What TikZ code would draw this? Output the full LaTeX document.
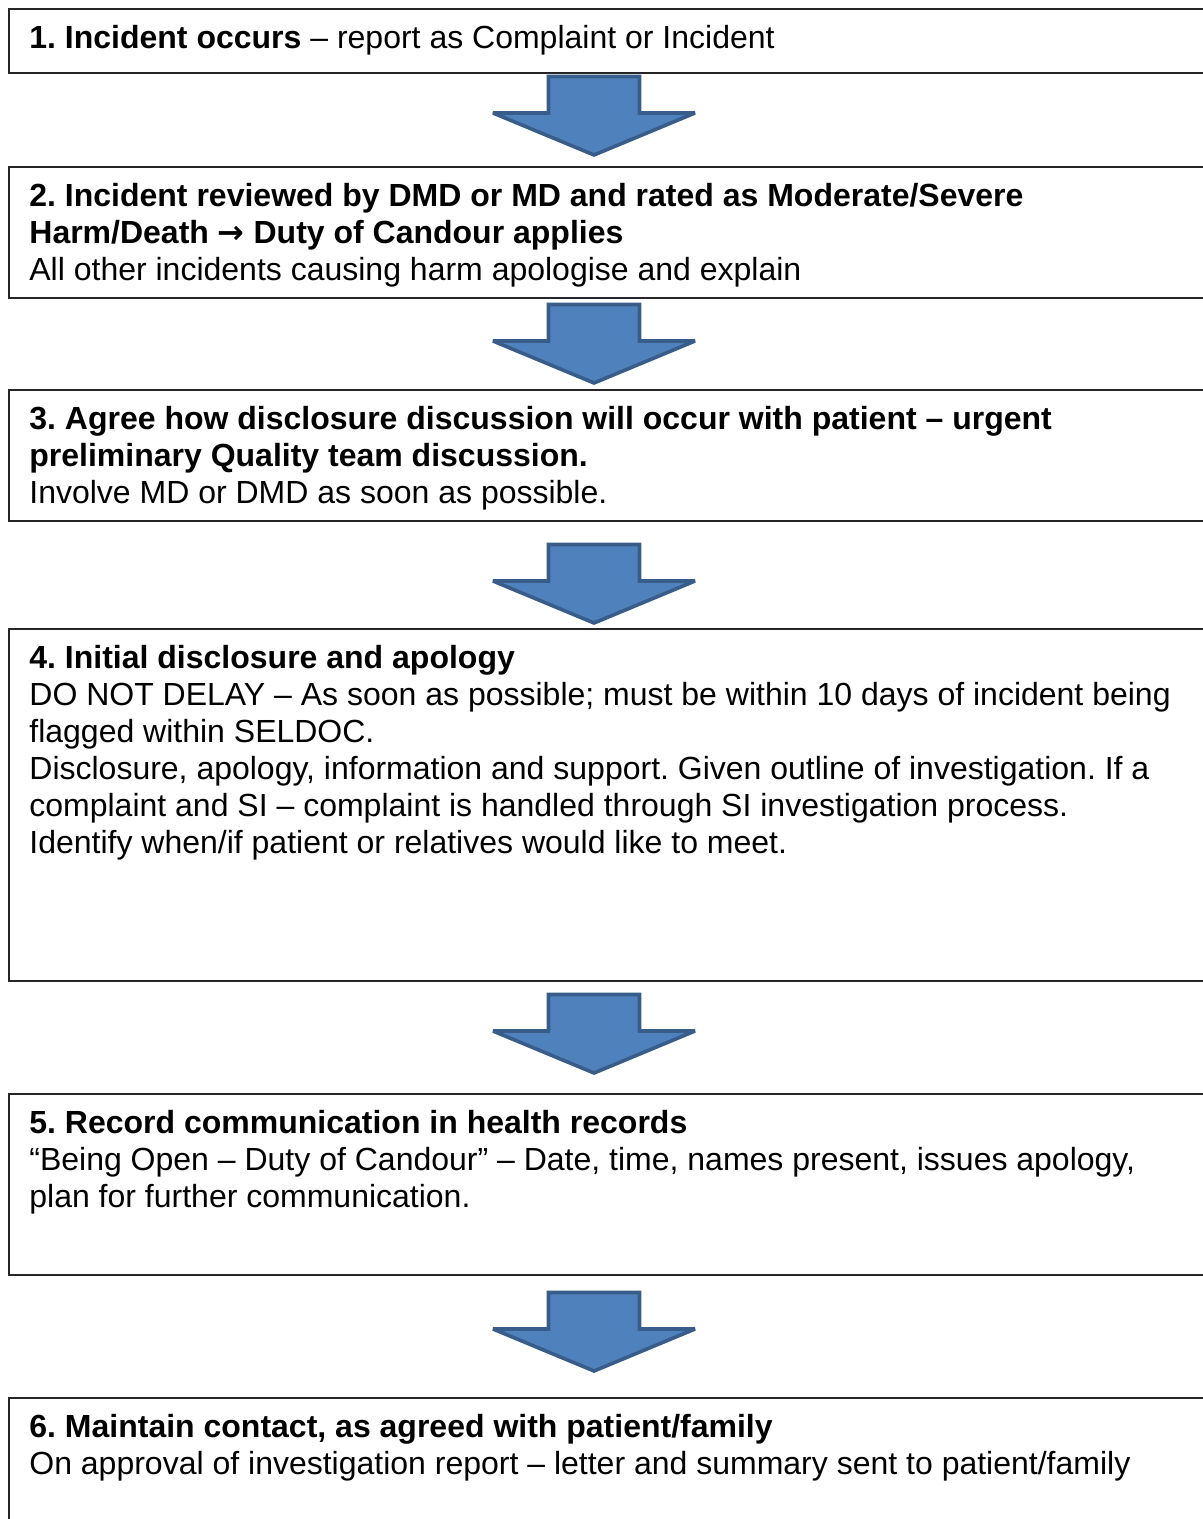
\documentclass[tikz,border=0pt]{standalone}
\usepackage{fontspec}
\setmainfont{Liberation Sans}
\newfontfamily\symfont{DejaVu Sans}
\usetikzlibrary{positioning}

\definecolor{arrowfill}{HTML}{4F81BD}
\definecolor{arrowedge}{HTML}{385D8A}
\frenchspacing

\tikzset{
  stepbox/.style={draw=black!85, line width=1pt, rectangle, inner sep=0pt,
    anchor=north west, minimum width=603.5pt},
  steptext/.style={anchor=north west, inner sep=0pt, align=left,
    font=\fontsize{16}{18.5}\selectfont},
  blockdown/.pic={
    \draw[fill=arrowfill, draw=arrowedge, line width=1.8pt, line join=miter,
      miter limit=2]
      (-45.5,1.5) -- (45.5,1.5) -- (45.5,38) -- (101,38) -- (0,80)
      -- (-101,38) -- (-45.5,38) -- cycle;}
}

\begin{document}
\begin{tikzpicture}[x=0.5pt, y=-0.5pt]

\useasboundingbox (0,0) rectangle (1203,1519);
\clip (0,0) rectangle (1203,1519);

% step boxes
\node[stepbox, minimum height=32pt]   (s1) at (8,8)    {};
\node[stepbox, minimum height=65.5pt] (s2) at (8,166)  {};
\node[stepbox, minimum height=65.5pt] (s3) at (8,389)  {};
\node[stepbox, minimum height=176pt]  (s4) at (8,628)  {};
\node[stepbox, minimum height=90.5pt] (s5) at (8,1093) {};
\node[stepbox, minimum height=70pt]   (s6) at (8,1397) {};

% texts
\node[steptext] (t1) at ([shift={(21,17)}]s1.north west)
  {\textbf{1. Incident occurs} – report as Complaint or Incident};
\node[steptext] (t2) at ([shift={(21,17)}]s2.north west)
  {\textbf{2. Incident reviewed by DMD or MD and rated as Moderate/Severe}\\
   \textbf{Harm/Death {\symfont →} Duty of Candour applies}\\
   All other incidents causing harm apologise and explain};
\node[steptext] (t3) at ([shift={(21,17)}]s3.north west)
  {\textbf{3. Agree how disclosure discussion will occur with patient – urgent}\\
   \textbf{preliminary Quality team discussion.}\\
   Involve MD or DMD as soon as possible.};
\node[steptext] (t4) at ([shift={(21,17)}]s4.north west)
  {\textbf{4. Initial disclosure and apology}\\
   DO NOT DELAY – As soon as possible; must be within 10 days of incident being\\
   flagged within SELDOC.\\
   Disclosure, apology, information and support. Given outline of investigation. If a\\
   complaint and SI – complaint is handled through SI investigation process.\\
   Identify when/if patient or relatives would like to meet.};
\node[steptext] (t5) at ([shift={(21,17)}]s5.north west)
  {\textbf{5. Record communication in health records}\\
   “Being Open – Duty of Candour” – Date, time, names present, issues apology,\\
   plan for further communication.};
\node[steptext] (t6) at ([shift={(21,17)}]s6.north west)
  {\textbf{6. Maintain contact, as agreed with patient/family}\\
   On approval of investigation report – letter and summary sent to patient/family};

% block arrows between the steps
\pic at (594,75)   {blockdown};
\pic at (594,303)  {blockdown};
\pic at (594,543)  {blockdown};
\pic at (594,993)  {blockdown};
\pic at (594,1291) {blockdown};

\end{tikzpicture}
\end{document}
